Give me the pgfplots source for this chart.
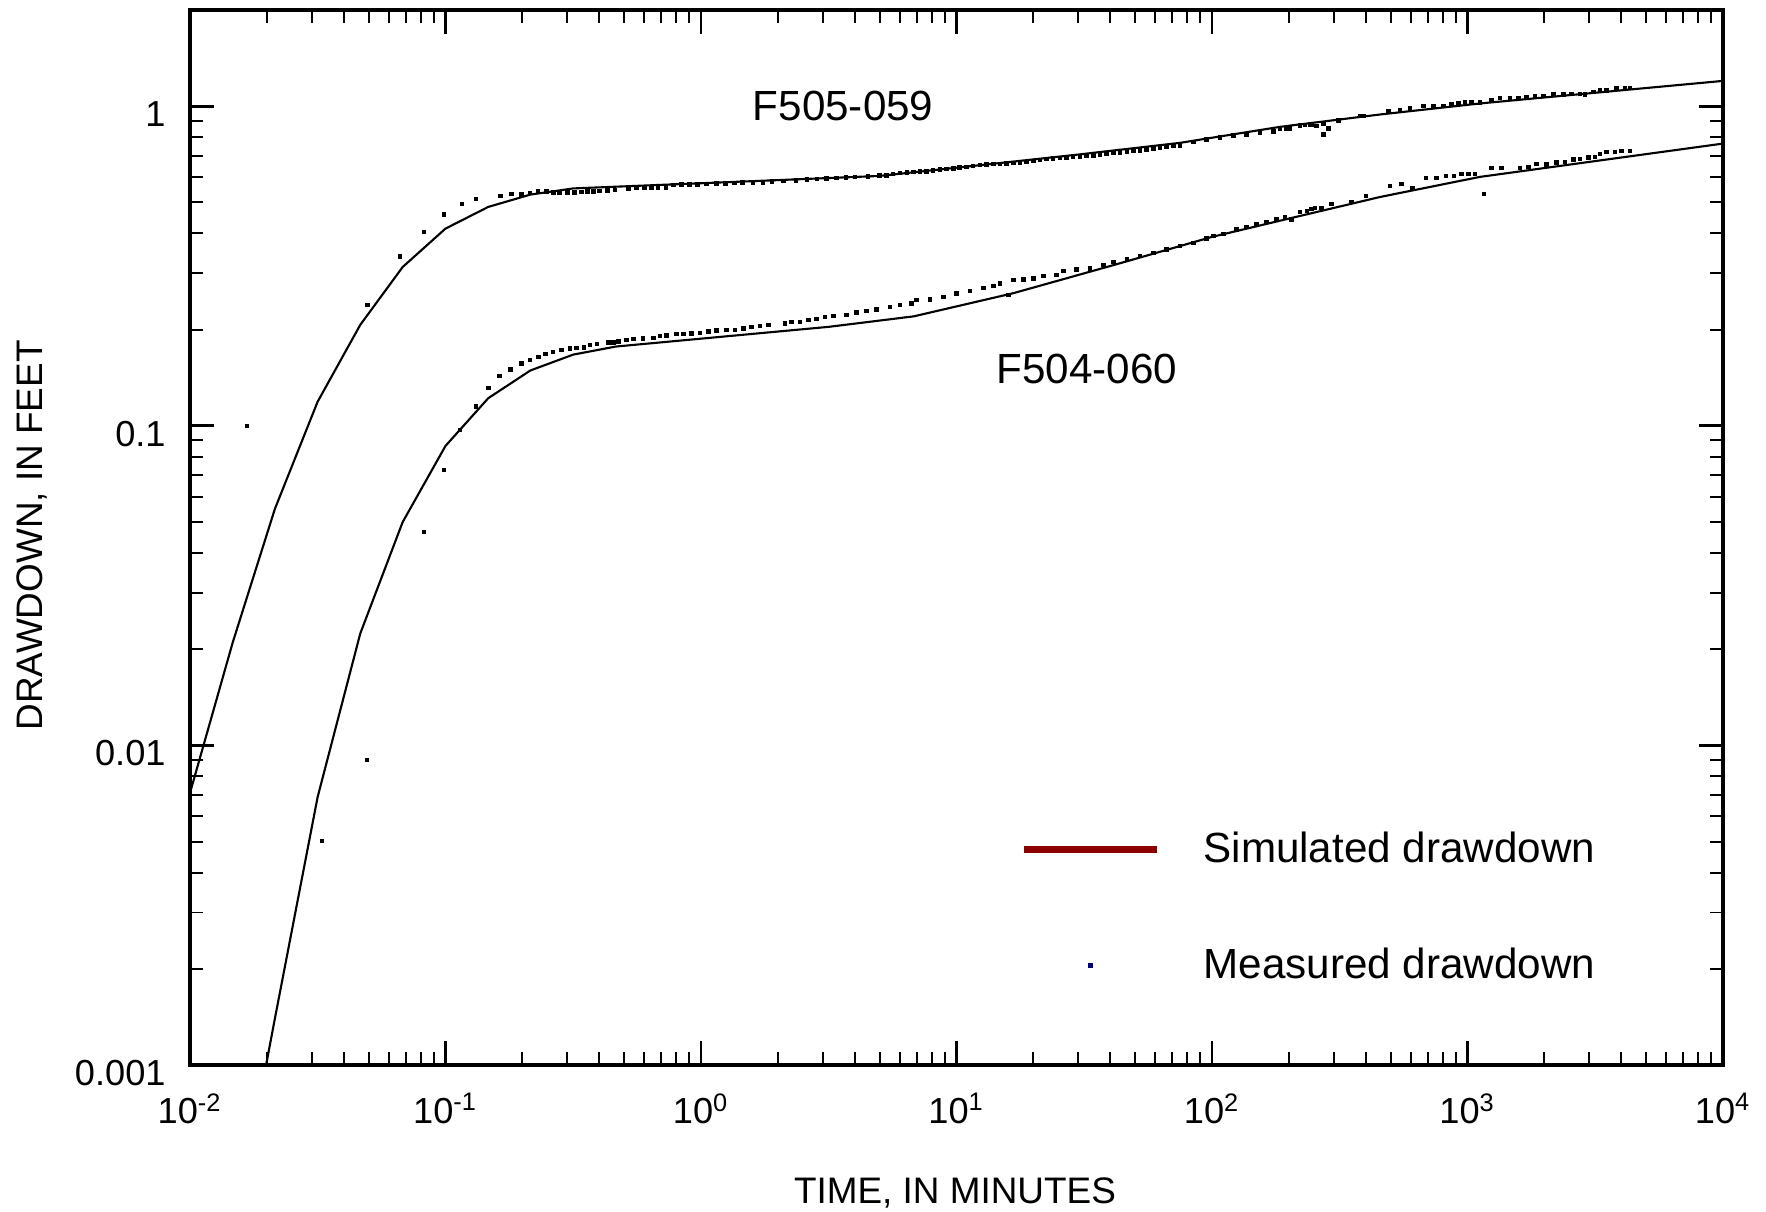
\documentclass[border=0pt]{standalone}
\usepackage{fontspec}
\setmainfont{Liberation Sans}
\usepackage{pgfplots}
\pgfplotsset{compat=1.18}
\definecolor{legred}{HTML}{8B0000}
\definecolor{legblue}{HTML}{00007F}
\begin{document}
\begin{tikzpicture}
\begin{axis}[
  xmode=log, ymode=log,
  scale only axis, width=15.33cm, height=10.55cm,
  xmin=0.01, xmax=10000, ymin=0.001, ymax=2,
  xtick={0.01,0.1,1,10,100,1000,10000},
  xticklabels={10\textsuperscript{-2},10\textsuperscript{-1},10\textsuperscript{0},10\textsuperscript{1},10\textsuperscript{2},10\textsuperscript{3},10\textsuperscript{4}},
  ytick={0.001,0.01,0.1,1},
  yticklabels={0.001,0.01,0.1,1},
  /pgf/number format/assume math mode=true,
  tick label style={font=\fontsize{10.3}{12.4}\selectfont},
  xticklabel style={yshift=-0.16cm},
  yticklabel style={xshift=-0.12cm, yshift=-0.08cm},
  label style={font=\fontsize{10.5}{12.6}\selectfont},
  xlabel={TIME, IN MINUTES},
  ylabel={DRAWDOWN, IN FEET},
  xlabel style={at={(axis description cs:0.499,-0.1215)}, anchor=center},
  ylabel style={at={(axis description cs:-0.1034,0.502)}, anchor=center},
  axis line style={line width=1.1pt},
  major tick length=0.24cm, minor tick length=0.13cm,
  every major tick/.append style={line width=0.85pt, black},
  every minor tick/.append style={line width=0.55pt, black},
  legend style={draw=none, fill=none, at={(0.5343,0.2284)}, anchor=north west,
    font=\fontsize{12}{14.4}\selectfont, row sep=0.8cm,
    nodes={inner sep=0pt}},
  legend cell align=left,
]
% Simulated, F505-059
\addplot[black, line width=0.6pt, forget plot] coordinates {
(0.01,0.0071) (0.0147,0.021) (0.0215,0.055) (0.0316,0.119) (0.0464,0.207)
(0.068,0.314) (0.1,0.414) (0.147,0.484) (0.215,0.529) (0.316,0.553)
(1,0.574) (5,0.605) (12.4,0.654) (30,0.706) (75,0.768) (185,0.862)
(455,0.942) (1120,1.02) (10000,1.20)};
% Simulated, F504-060
\addplot[black, line width=0.6pt, forget plot] coordinates {
(0.0147,0.00028) (0.0215,0.0014) (0.0316,0.0069) (0.0464,0.0224) (0.068,0.050)
(0.1,0.0865) (0.147,0.122) (0.215,0.149) (0.316,0.167) (0.464,0.177)
(3.16,0.204) (6.8,0.220) (16.7,0.26) (41,0.318) (100,0.39) (200,0.445)
(455,0.52) (1120,0.601) (10000,0.764)};
% Measured, F505-059
\addplot[only marks, mark=square*, mark size=0.45pt, black, forget plot] coordinates {
(0.0167,0.100) (0.0494,0.239) (0.0664,0.338) (0.0824,0.404) (0.0987,0.459)
(0.116,0.494) (0.1316,0.512) (0.164,0.523) (0.1815,0.531) (0.1987,0.529)
(0.214,0.535) (0.23,0.540) (0.248,0.540) (0.265,0.536) (0.28,0.537)
(0.30,0.537) (0.32,0.538) (0.34,0.539) (0.36,0.540) (0.38,0.541)
(0.40,0.543) (0.43,0.545) (0.46,0.546) (0.52,0.553) (0.56,0.554)
(0.60,0.555) (0.64,0.556) (0.68,0.556) (0.73,0.557) (0.78,0.567)
(0.84,0.568) (0.90,0.569) (0.97,0.570) (1.05,0.571) (1.15,0.573)
(1.25,0.574) (1.35,0.575) (1.45,0.576) (1.6,0.577) (1.75,0.578)
(1.9,0.582) (2.1,0.584) (2.35,0.586) (2.6,0.589) (2.85,0.591)
(3.1,0.594) (3.4,0.596) (3.7,0.598) (4.0,0.600) (4.5,0.603)
(5.0,0.606) (5.33,0.608) (5.65,0.613) (6.01,0.618) (6.4,0.620)
(6.78,0.623) (7.2,0.625) (7.64,0.626) (8.1,0.630) (8.61,0.634)
(9.15,0.636) (9.72,0.639) (10.3,0.642) (10.97,0.646) (11.6,0.650)
(12.37,0.654) (13.1,0.656) (13.94,0.659) (14.8,0.660) (15.72,0.662)
(16.7,0.665) (17.72,0.667) (18.8,0.670) (19.98,0.674) (21.2,0.678)
(22.5,0.683) (23.9,0.685) (25.4,0.688) (27.0,0.690) (28.6,0.693)
(30.4,0.696) (32.3,0.699) (34.3,0.702) (36.4,0.706) (38.7,0.710)
(41.1,0.714) (43.7,0.717) (46.4,0.721) (49.3,0.724) (52.3,0.728)
(55.5,0.732) (58.9,0.737) (62.6,0.741) (66.5,0.746) (70.6,0.750)
(75.0,0.755) (84.5,0.773) (95.3,0.787) (107.4,0.798) (121.2,0.810)
(136.7,0.817) (154.1,0.825) (173.8,0.835) (184.5,0.852) (195.9,0.849)
(201.8,0.852) (220.9,0.870) (231,0.872) (241.9,0.876) (245.5,0.872)
(256.8,0.868) (272.7,0.883) (272.7,0.817) (285,0.852) (312,0.902)
(379,0.931) (391,0.933) (489.7,0.967) (544.5,0.973) (595.7,0.985)
(671.6,1.000) (734.5,1.000) (804,1.001) (867,1.015) (920,1.020)
(977,1.028) (1039,1.032) (1120,1.029) (1244,1.044) (1340,1.062)
(1466,1.062) (1581,1.062) (1705,1.069) (1837,1.075) (1981,1.077)
(2167,1.088) (2371,1.088) (2557,1.093) (2756,1.093) (2884,1.088)
(3108,1.109) (3301,1.119) (3506,1.122) (3836,1.136) (4134,1.136)
(4325,1.141)};
% Measured, F504-060
\addplot[only marks, mark=square*, mark size=0.45pt, black, forget plot] coordinates {
(0.0328,0.00503) (0.0492,0.0090) (0.0824,0.0465) (0.0986,0.0727) (0.114,0.097)
(0.1316,0.115) (0.1476,0.1315) (0.163,0.143) (0.180,0.150) (0.1985,0.1567)
(0.214,0.1605) (0.2314,0.1644) (0.2466,0.1677) (0.2637,0.170) (0.285,0.1725)
(0.307,0.1746) (0.326,0.1754) (0.348,0.1758) (0.368,0.1788) (0.391,0.1801)
(0.434,0.182) (0.454,0.1823) (0.475,0.1836) (0.512,0.1854) (0.543,0.1871)
(0.594,0.1876) (0.651,0.1884) (0.691,0.1908) (0.734,0.1917) (0.803,0.1935)
(0.852,0.1935) (0.919,0.1945) (0.991,0.1954) (1.068,0.1973) (1.152,0.1988)
(1.26,0.1992) (1.359,0.1992) (1.464,0.2016) (1.579,0.204) (1.702,0.205)
(1.834,0.2065) (2.132,0.209) (2.265,0.211) (2.44,0.2115) (2.63,0.2141)
(2.838,0.2161) (3.057,0.2193) (3.295,0.2203) (3.716,0.222) (4.07,0.2263)
(4.45,0.229) (4.87,0.2312) (5.49,0.2356) (6.01,0.2385) (6.68,0.2414)
(6.98,0.2472) (7.88,0.2484) (8.88,0.2532) (10.02,0.2594) (11.29,0.2638)
(12.73,0.2702) (13.94,0.2735) (14.8,0.2789) (15.95,0.2563) (16.69,0.2855)
(18.26,0.287) (19.98,0.2891) (21.87,0.2938) (24.66,0.296) (26.18,0.3047)
(29.55,0.3084) (33.3,0.3106) (37.6,0.3181) (41.1,0.3258) (46.4,0.3315)
(52.3,0.3395) (58.9,0.3476) (66.5,0.3563) (75.0,0.3648) (84.5,0.3736)
(95.3,0.3856) (101.2,0.3921) (110.7,0.3977) (124.9,0.4114) (136.7,0.4193)
(149.6,0.4266) (163.7,0.4337) (179.1,0.4421) (193,0.4505) (205,0.4421)
(221,0.467) (235,0.4705) (245.5,0.4763) (253,0.4797) (268.8,0.4797)
(294,0.4937) (352,0.5009) (400.6,0.524) (497.4,0.5622) (552.7,0.5703)
(610,0.555) (688,0.5968) (757.6,0.5968) (824,0.604) (885,0.604)
(948.6,0.6129) (1007,0.6129) (1070,0.6129) (1161,0.5306) (1244,0.641)
(1361,0.641) (1606,0.641) (1730,0.646) (1866,0.659) (2042,0.6575)
(2234,0.667) (2408,0.668) (2596,0.681) (2756,0.684) (2971,0.691)
(3155,0.694) (3301,0.708) (3506,0.7197) (3779,0.7197) (4013,0.7249)
(4325,0.7249)};
\addlegendimage{legend image code/.code={\draw[legred, line width=2pt] (0cm,0cm) -- (1.33cm,0cm); \path (1.79cm,0cm);}}
\addlegendentry{Simulated drawdown}
\addlegendimage{legend image code/.code={\draw[only marks, mark=square*, mark size=0.5pt, legblue, mark repeat=2, mark phase=2] plot coordinates {(0cm,0cm) (0.665cm,0cm) (1.33cm,0cm)}; \path (1.79cm,0cm);}}
\addlegendentry{Measured drawdown}
\node[font=\fontsize{12}{14.4}\selectfont] at (axis cs:3.6,1.0) {F505-059};
\node[font=\fontsize{12}{14.4}\selectfont] at (axis cs:32.4,0.1507) {F504-060};
\end{axis}
\pgfresetboundingbox
\path[use as bounding box] ([shift={(-1.90cm,-1.47cm)}]current axis.south west) rectangle ([shift={(0.43cm,0.10cm)}]current axis.north east);
\end{tikzpicture}
\end{document}
